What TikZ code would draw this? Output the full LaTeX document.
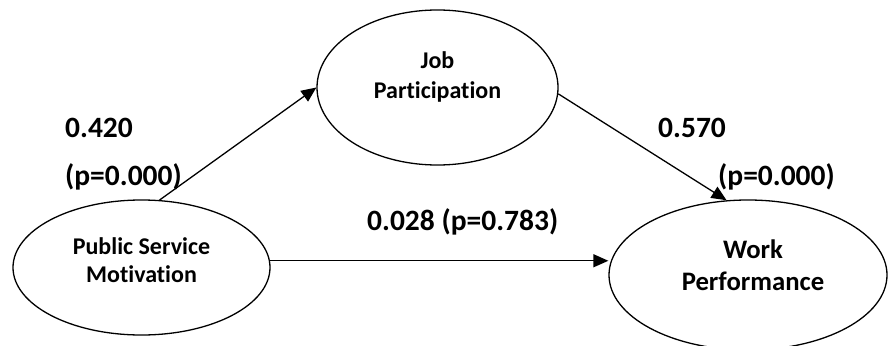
\documentclass[tikz,border=0pt]{standalone}
\usepackage{fontspec}
\setmainfont{Carlito}[RawFeature={-liga}]
\usetikzlibrary{shapes.geometric,arrows.meta}
\begin{document}
\begin{tikzpicture}[x=1pt,y=-1pt,
  ell/.style={draw,ellipse,line width=1.3pt,inner sep=0pt},
  arr/.style={line width=1.3pt,-{Triangle[length=15pt,width=13pt]}},
  lbl/.style={font=\bfseries\fontsize{29.5}{34}\selectfont,anchor=base west,inner sep=0pt},
  txtA/.style={font=\bfseries\fontsize{24}{28}\selectfont,align=center,inner sep=0pt},
  txtJ/.style={font=\bfseries\fontsize{24}{30}\selectfont,align=center,inner sep=0pt},
  txtW/.style={font=\bfseries\fontsize{26.7}{32}\selectfont,align=center,inner sep=0pt}
]
\useasboundingbox (0,0) rectangle (890,345);
\fill[white] (0,0) rectangle (890,345);
% ellipses
\node[ell,minimum width=241pt,minimum height=155pt] (jp) at (437.5,87.5) {};
\node[ell,minimum width=257pt,minimum height=135pt] (psm) at (141.5,267.5) {};
\node[ell,minimum width=278pt,minimum height=150pt] (wp) at (748,275) {};
% texts
\node[txtJ] (jpt) at (437.5,76.5) {Job\\Participation};
\node[txtA] (psmt) at (141.5,260.5) {Public Service\\Motivation};
\node[txtW] (wpt) at (753,265) {Work\\Performance};
% arrows
\draw[arr] (psm.75) -- (jp.west);
\draw[arr] (jp.-3) -- (wp.106);
\draw[arr] (psm.3) -- (psm.3 -| wp.west);
% labels
\node[lbl] (l1) at (65,137) {0.420};
\node[lbl] (l2) at (65,185) {(p=0.000)};
\node[lbl] (l3) at (367,230) {0.028 (p=0.783)};
\node[lbl] (l4) at (658,137) {0.570};
\node[lbl] (l5) at (718,185) {(p=0.000)};
\end{tikzpicture}
\end{document}
